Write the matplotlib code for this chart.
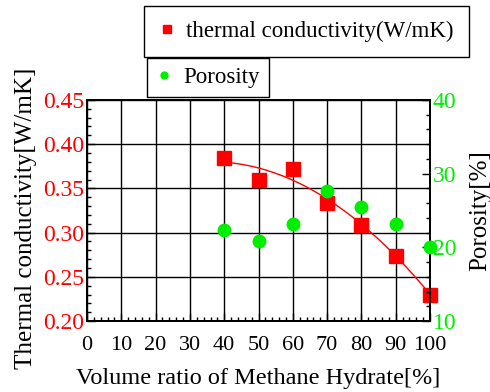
import matplotlib
matplotlib.use('Agg')
import matplotlib.pyplot as plt
import numpy as np
from matplotlib.ticker import MultipleLocator, FormatStrFormatter

plt.rcParams['font.family'] = ['Liberation Serif', 'DejaVu Serif']

# methane hydrate volume ratio [%]
ratio = [40, 50, 60, 70, 80, 90, 100]
# thermal conductivity [W/mK]
conductivity = [0.384, 0.360, 0.372, 0.334, 0.309, 0.274, 0.230]
# porosity [%]
porosity = [22.3, 20.8, 23.2, 27.6, 25.5, 23.2, 20.1]

red = '#ff0000'
green = '#00ee00'

fig = plt.figure(figsize=(4.9, 3.92), dpi=100)
ax = fig.add_axes([0.1776, 0.181, 0.7, 0.564])

# second-order fit through the conductivity points
coef = np.polyfit(ratio, conductivity, 2)
xf = np.linspace(ratio[0], ratio[-1], 100)
ax.plot(xf, np.polyval(coef, xf), color=red, lw=1, zorder=3)
l1, = ax.plot(ratio, conductivity, 's', color=red, ms=9.5, zorder=4,
              clip_on=False, label='thermal conductivity(W/mK)')

ax.set_xlim(0, 100)
ax.set_ylim(0.20, 0.45)
ax.xaxis.set_major_locator(MultipleLocator(10))
ax.xaxis.set_minor_locator(MultipleLocator(2))
ax.yaxis.set_major_locator(MultipleLocator(0.05))
ax.yaxis.set_minor_locator(MultipleLocator(0.01))
ax.yaxis.set_major_formatter(FormatStrFormatter('%.2f'))
ax.grid(True, which='major', color='black', lw=1)
ax.tick_params(which='both', direction='in', top=False, right=False)
ax.tick_params(which='major', length=6, width=1)
ax.tick_params(which='minor', length=3, width=1)
ax.tick_params(axis='y', colors='black', labelcolor=red, labelsize=17, pad=2)
ax.tick_params(axis='x', labelsize=16, pad=11)
ax.set_xlabel('Volume ratio of Methane Hydrate[%]', fontsize=17.5, labelpad=9)
ax.set_ylabel('Thermal conductivity[W/mK]', fontsize=18)
ax.yaxis.set_label_coords(-0.145, 0.465)
for s in ax.spines.values():
    s.set_linewidth(1.3)

ax2 = ax.twinx()
l2, = ax2.plot(ratio, porosity, 'o', color=green, ms=9, zorder=4,
               clip_on=False, label='Porosity')
ax2.set_ylim(10, 40)
ax2.yaxis.set_major_locator(MultipleLocator(10))
ax2.yaxis.set_minor_locator(MultipleLocator(2))
ax2.tick_params(which='both', direction='in')
ax2.tick_params(which='major', length=6, width=1)
ax2.tick_params(which='minor', length=3, width=1)
ax2.tick_params(axis='y', labelcolor=green, labelsize=17, pad=2)
ax2.set_ylabel('Porosity[%]', fontsize=18, labelpad=9)
for s in ax2.spines.values():
    s.set_linewidth(1.3)

leg1 = fig.legend(handles=[l1], loc='upper left', bbox_to_anchor=(0.294, 0.985),
                  fontsize=16.5, fancybox=False, edgecolor='black', framealpha=1,
                  markerscale=0.55, handlelength=0.7, handletextpad=0.5,
                  borderpad=0.65, borderaxespad=0)
leg1.get_frame().set_linewidth(1)
leg2 = fig.legend(handles=[l2], loc='upper left', bbox_to_anchor=(0.3, 0.852),
                  fontsize=16.5, fancybox=False, edgecolor='black', framealpha=1,
                  markerscale=0.55, handlelength=0.7, handletextpad=0.5,
                  borderpad=0.4, borderaxespad=0)
leg2.get_frame().set_linewidth(1)

fig.savefig('out.png', dpi=100)
